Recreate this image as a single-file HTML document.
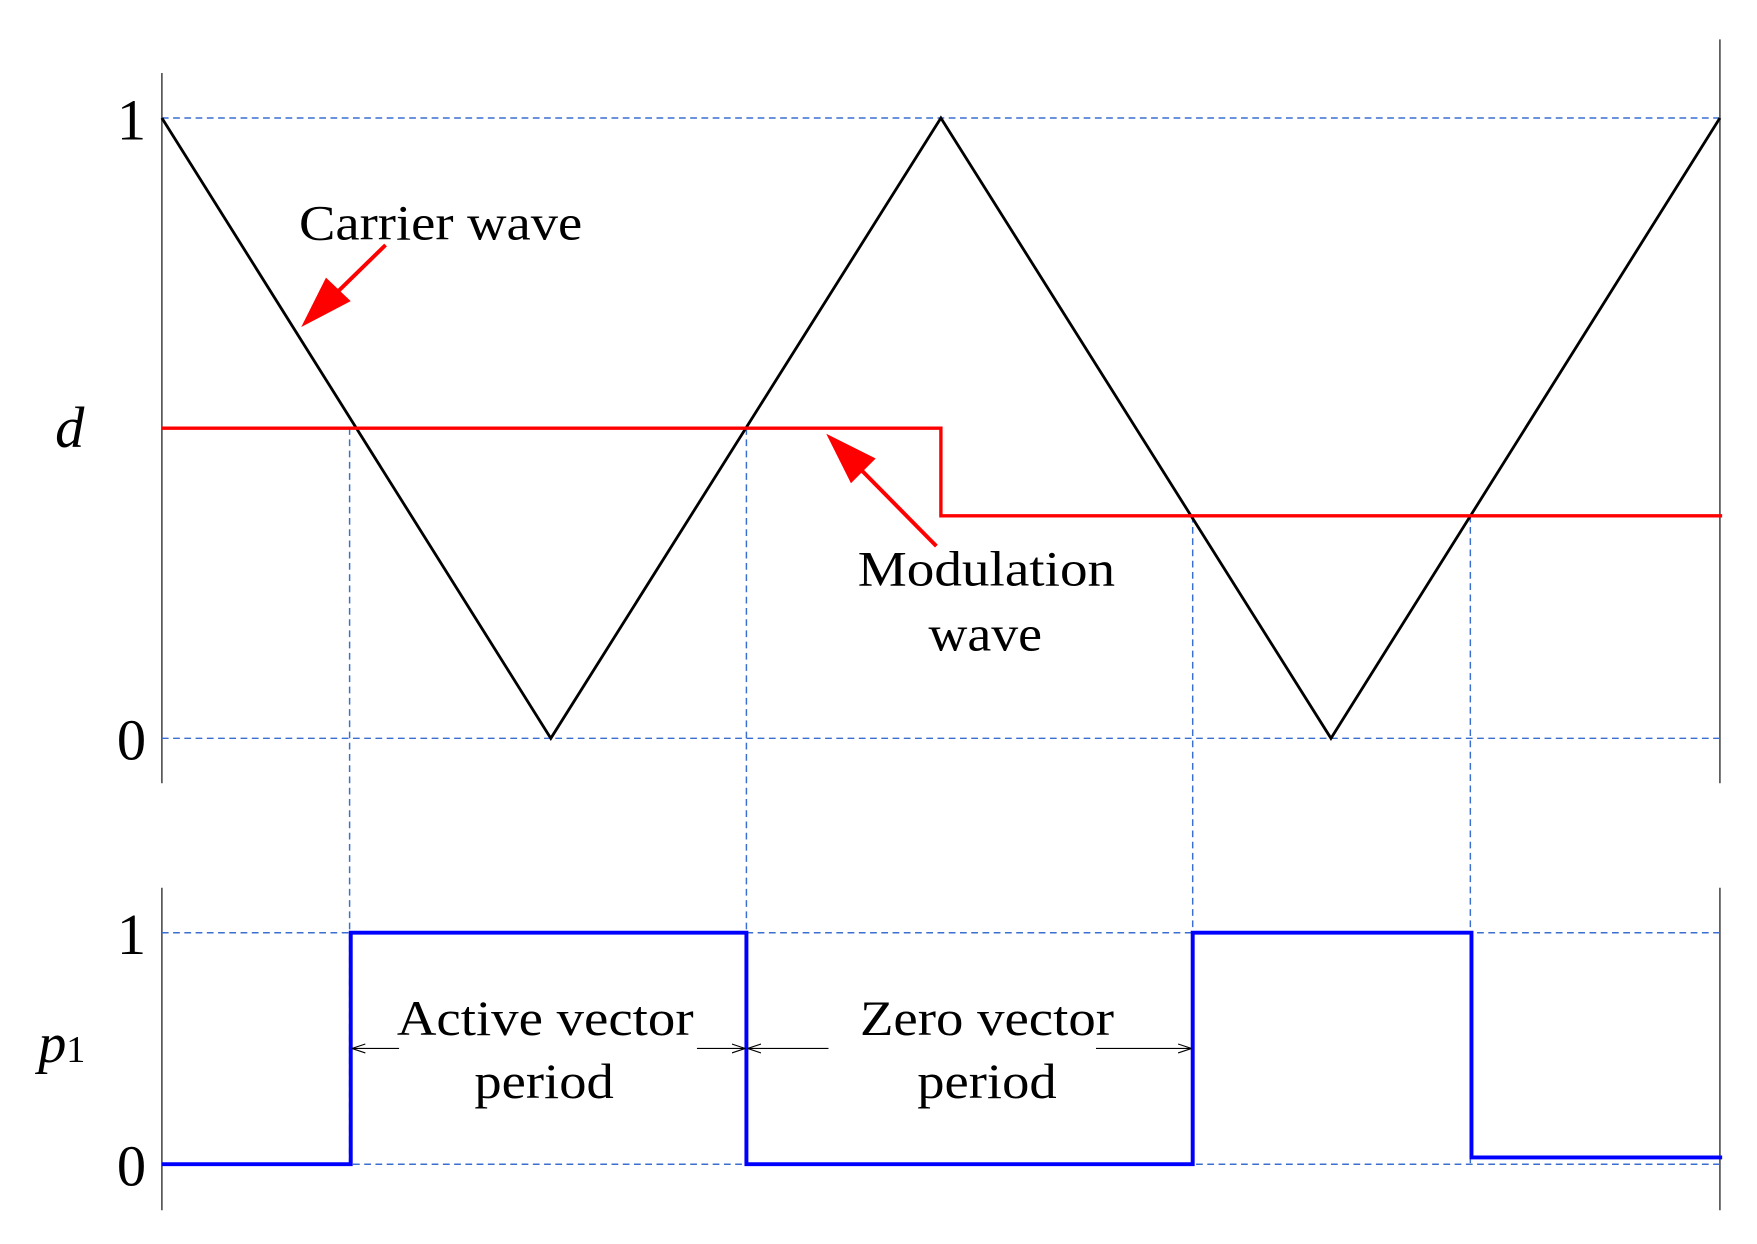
<!DOCTYPE html>
<html><head><style>html,body{margin:0;padding:0;background:#fff}svg{display:block}</style></head><body>
<svg width="1757" height="1244" viewBox="0 0 1563 1107" preserveAspectRatio="none" xmlns="http://www.w3.org/2000/svg" font-family="Liberation Serif, serif">
<defs>
<marker id="sa" markerWidth="12" markerHeight="10" refX="12" refY="5" orient="auto" markerUnits="userSpaceOnUse"><path d="M0,1 L12,5 L0,9" fill="none" stroke="#000" stroke-width="1"/></marker>
</defs>
<g stroke="#555" stroke-width="1.5">
<line x1="144" y1="65" x2="144" y2="697"/><line x1="1530" y1="35" x2="1530" y2="697"/>
<line x1="144" y1="790" x2="144" y2="1077"/><line x1="1530" y1="790" x2="1530" y2="1077"/>
</g>
<g stroke="#3a6fd0" stroke-width="1.3" stroke-dasharray="6,4" fill="none">
<line x1="144" y1="105" x2="1530" y2="105"/><line x1="144" y1="657" x2="1530" y2="657"/>
<line x1="144" y1="830" x2="1530" y2="830"/><line x1="144" y1="1036" x2="1530" y2="1036"/>
<line x1="311" y1="381" x2="311" y2="1036"/><line x1="664" y1="381" x2="664" y2="1036"/>
<line x1="1061" y1="459" x2="1061" y2="1036"/><line x1="1308" y1="459" x2="1308" y2="1036"/>
</g>
<polyline points="144,105 490,657 837,105 1184,657 1530,105" fill="none" stroke="#000" stroke-width="2.5"/>
<polyline points="144,381 837,381 837,459 1532,459" fill="none" stroke="red" stroke-width="3"/>
<polyline points="144,1036 312,1036 312,830 664,830 664,1036 1061,1036 1061,830 1309,830 1309,1030 1532,1030" fill="none" stroke="#0000ff" stroke-width="3.5"/>
<line x1="343" y1="218" x2="300" y2="260" stroke="red" stroke-width="3.5"/>
<path d="M268,291 L290,247 L312,268 z" fill="red"/>
<line x1="833" y1="486" x2="765" y2="417" stroke="red" stroke-width="3.5"/>
<path d="M735,386 L779,408 L757,430 z" fill="red"/>
<g stroke="#000" stroke-width="1" fill="none">
<line x1="355" y1="933" x2="313" y2="933" marker-end="url(#sa)"/>
<line x1="620" y1="933" x2="663" y2="933" marker-end="url(#sa)"/>
<line x1="737" y1="933" x2="665" y2="933" marker-end="url(#sa)"/>
<line x1="975" y1="933" x2="1060" y2="933" marker-end="url(#sa)"/>
</g>
<g font-size="52" fill="#000" text-anchor="middle">
<text x="117" y="124">1</text><text x="117" y="676">0</text>
<text x="117" y="849">1</text><text x="117" y="1055">0</text>
<text x="62" y="398" font-style="italic">d</text>
</g>
<text x="34" y="945" font-size="50" font-style="italic">p<tspan font-style="normal" font-size="34">1</tspan></text>
<g font-size="44" fill="#000">
<text x="266" y="213" textLength="252" lengthAdjust="spacingAndGlyphs">Carrier wave</text>
<text x="763" y="521" textLength="229" lengthAdjust="spacingAndGlyphs">Modulation</text>
<text x="826" y="579" textLength="101" lengthAdjust="spacingAndGlyphs">wave</text>
<text x="353" y="921" textLength="264" lengthAdjust="spacingAndGlyphs">Active vector</text>
<text x="422" y="977" textLength="124" lengthAdjust="spacingAndGlyphs">period</text>
<text x="765" y="921" textLength="226" lengthAdjust="spacingAndGlyphs">Zero vector</text>
<text x="816" y="977" textLength="124" lengthAdjust="spacingAndGlyphs">period</text>
</g>
</svg>
</body></html>
